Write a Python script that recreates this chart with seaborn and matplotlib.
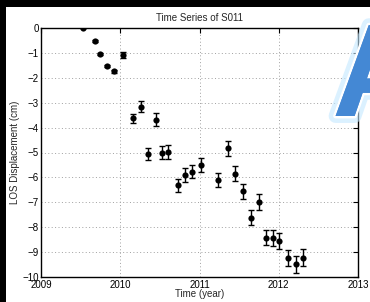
import numpy as np
import pandas as pd
import seaborn as sns
import matplotlib.pyplot as plt
import matplotlib.patheffects as pe
from matplotlib.patches import Rectangle

# time series values
t = [2009.534, 2009.686, 2009.749, 2009.837, 2009.922, 2010.032, 2010.165, 2010.266,
     2010.351, 2010.456, 2010.524, 2010.604, 2010.730, 2010.814, 2010.910, 2011.024,
     2011.239, 2011.357, 2011.449, 2011.551, 2011.655, 2011.753, 2011.837, 2011.929,
     2012.009, 2012.115, 2012.216, 2012.312]
disp = [0.0, -0.53, -1.04, -1.53, -1.74, -1.09, -3.63, -3.16,
        -5.05, -3.68, -5.0, -4.98, -6.32, -5.9, -5.77, -5.5,
        -6.12, -4.83, -5.85, -6.55, -7.62, -6.97, -8.42, -8.43,
        -8.55, -9.25, -9.49, -9.22]
err = [0.0, 0.03, 0.04, 0.04, 0.05, 0.13, 0.17, 0.22,
       0.25, 0.27, 0.25, 0.27, 0.25, 0.27, 0.27, 0.28,
       0.28, 0.3, 0.3, 0.3, 0.31, 0.32, 0.31, 0.31,
       0.33, 0.32, 0.33, 0.35]
xticks = [2009, 2010, 2011, 2012, 2013]
yticks = list(range(-10, 1))

df = pd.DataFrame({'t': t, 'disp': disp, 'err': err})

sns.set_style("white")
plt.rcParams['font.family'] = ['Liberation Sans', 'DejaVu Sans']
plt.rcParams['axes.unicode_minus'] = True

fig = plt.figure(figsize=(3.7, 3.02), dpi=100)
fig.patch.set_facecolor('white')
ax = fig.add_axes([41/370, 1 - 277/302, 317/370, 249/302])

ax.errorbar(df['t'], df['disp'], yerr=df['err'], fmt='none', ecolor='black',
            elinewidth=1.0, capsize=2, capthick=1.0, zorder=3)
sns.scatterplot(data=df, x='t', y='disp', color='black', s=20, edgecolor='black',
                linewidth=0, ax=ax, zorder=4)

ax.set_xlim(2009, 2013)
ax.set_ylim(-10, 0)
ax.set_xticks(xticks)
ax.set_yticks(yticks)
ax.set_xticklabels([str(v) for v in xticks])
ax.set_yticklabels(['\u2212' + str(-v) if v < 0 else str(v) for v in yticks])
ax.grid(True, linestyle=(0, (1, 2.5)), color='#a0a0a0', linewidth=0.7)
ax.tick_params(direction='in', length=3.5, width=0.8, top=True, right=True,
               labelsize=7, colors='black')
ax.tick_params(axis='x', pad=2.5)
ax.tick_params(axis='y', pad=1.5)
for s in ax.spines.values():
    s.set_color('black')
    s.set_linewidth(1.0)
ax.set_xlabel('Time (year)', fontsize=7, labelpad=-1)
ax.set_ylabel('LOS Displacement (cm)', fontsize=7, labelpad=2)
ax.set_title('Time Series of S011', fontsize=7, pad=5)

# black strips at left and top edges
fig.patches.append(Rectangle((0, 0), 6/370, 1, transform=fig.transFigure,
                             facecolor='black', edgecolor='none', zorder=10))
fig.patches.append(Rectangle((0, 1 - 7/302), 1, 7/302, transform=fig.transFigure,
                             facecolor='black', edgecolor='none', zorder=10))

# glossy blue letter in top right corner, mostly cut off by the edge
fig.text(380/370, 1 - 116/302, 'A', fontsize=95, fontweight='bold', color='#4488d4',
         ha='center', va='baseline', zorder=20,
         path_effects=[pe.withStroke(linewidth=10, foreground='#c4e8ff', alpha=0.6),
                       pe.withStroke(linewidth=3.5, foreground='white'),
                       pe.Normal()])

fig.savefig('out.png', dpi=100)
